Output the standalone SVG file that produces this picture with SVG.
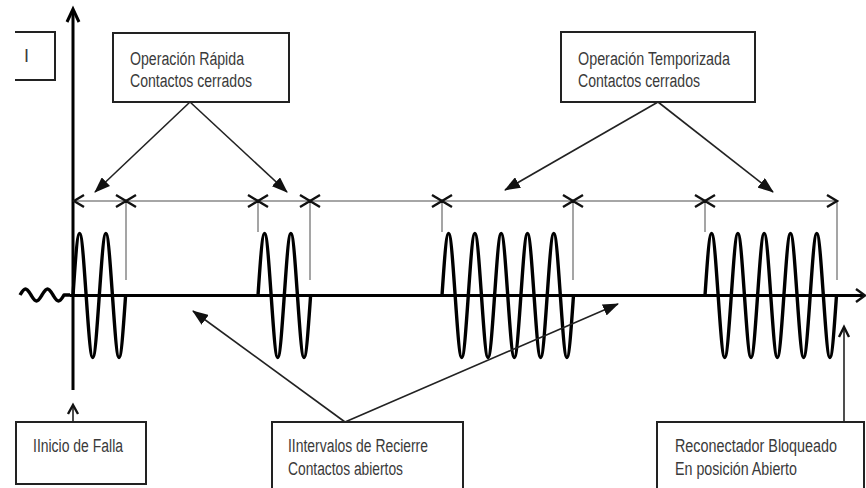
<svg xmlns="http://www.w3.org/2000/svg" xmlns:xlink="http://www.w3.org/1999/xlink" width="866" height="488" viewBox="0 0 866 488">
<style>
.box{fill:#fff;stroke:#222;stroke-width:2}
.lbl{font-family:"Liberation Sans",Arial,sans-serif;font-size:18px;fill:#3a3a3a}
.wave{fill:none;stroke:#000;stroke-width:3.4;stroke-linejoin:round}
.axis{stroke:#000;stroke-width:3;fill:none}
.dim{stroke:#888;stroke-width:1.5;fill:none}
.chev{stroke:#111;stroke-width:2.4;fill:none}
.con{stroke:#222;stroke-width:1.6;fill:none}
</style>
<defs>
<marker id="ah" viewBox="0 0 16 12" refX="15" refY="6" markerWidth="16" markerHeight="12" markerUnits="userSpaceOnUse" orient="auto"><path d="M0,0 L16,6 L0,12 z" fill="#111"/></marker>
<path id="b2" d="M0,0 c 2.14,-31.68 4.19,-62 6.575,-62 s 4.435,31.68 6.575,62 s 4.19,62 6.575,62 s 4.435,-31.68 6.575,-62 s 4.19,-62 6.575,-62 s 4.435,31.68 6.575,62 s 4.19,62 6.575,62 s 4.435,-31.68 6.575,-62"/>
<path id="b5" d="M0,0 c 2.14,-31.68 4.19,-62 6.575,-62 s 4.435,31.68 6.575,62 s 4.19,62 6.575,62 s 4.435,-31.68 6.575,-62 s 4.19,-62 6.575,-62 s 4.435,31.68 6.575,62 s 4.19,62 6.575,62 s 4.435,-31.68 6.575,-62 s 4.19,-62 6.575,-62 s 4.435,31.68 6.575,62 s 4.19,62 6.575,62 s 4.435,-31.68 6.575,-62 s 4.19,-62 6.575,-62 s 4.435,31.68 6.575,62 s 4.19,62 6.575,62 s 4.435,-31.68 6.575,-62 s 4.19,-62 6.575,-62 s 4.435,31.68 6.575,62 s 4.19,62 6.575,62 s 4.435,-31.68 6.575,-62"/>
</defs>
<rect width="866" height="488" fill="#fff"/>
<g id="chart">
<line class="axis" x1="73" y1="10" x2="73" y2="390"/>
<path class="axis" d="M67,22 L73,9 L79,22"/>
<line class="axis" x1="70" y1="295.5" x2="863" y2="295.5"/>
<path class="chev" d="M856,289 L865,295.5 L856,302"/>
<path class="wave" stroke-width="2.5" d="M 20,295 c 1.79,-3.07 3.51,-6 5.5,-6 s 3.71,3.07 5.5,6 s 3.51,6 5.5,6 s 3.71,-3.07 5.5,-6 s 3.51,-6 5.5,-6 s 3.71,3.07 5.5,6 s 3.51,6 5.5,6 s 3.71,-3.07 5.5,-6 L 70,295"/>
<use xlink:href="#b2" class="wave" x="73" y="295.5"/>
<use xlink:href="#b2" class="wave" x="258" y="295.5"/>
<use xlink:href="#b5" class="wave" x="442" y="295.5"/>
<use xlink:href="#b5" class="wave" x="705" y="295.5"/>
<line class="dim" x1="73" y1="201" x2="837" y2="201"/>
<path class="dim" d="M126,201 V280 M258,201 V232 M310,201 V280 M442,201 V232 M573,201 V280 M705,201 V232 M837,201 V280"/>
<path class="chev" d="M84,195 L74,201 L84,207 M827,195 L837,201 L827,207"/>
<path class="chev" d="M116,195 L126,201 L116,207 M136,195 L126,201 L136,207 M248,195 L258,201 L248,207 M268,195 L258,201 L268,207 M300,195 L310,201 L300,207 M320,195 L310,201 L320,207 M432,195 L442,201 L432,207 M452,195 L442,201 L452,207 M563,195 L573,201 L563,207 M583,195 L573,201 L583,207 M695,195 L705,201 L695,207 M715,195 L705,201 L715,207"/>
</g>
<g id="connectors">
<line class="con" x1="190" y1="102" x2="95" y2="192" marker-end="url(#ah)"/>
<line class="con" x1="190" y1="102" x2="287" y2="192" marker-end="url(#ah)"/>
<line class="con" x1="658" y1="102" x2="505" y2="190" marker-end="url(#ah)"/>
<line class="con" x1="658" y1="102" x2="773" y2="192" marker-end="url(#ah)"/>
<line class="con" x1="345" y1="422" x2="193" y2="311" marker-end="url(#ah)"/>
<line class="con" x1="345" y1="422" x2="618" y2="304" marker-end="url(#ah)"/>
<line class="con" x1="73" y1="422" x2="73" y2="406"/>
<path class="chev" d="M68,414 L73,405 L78,414"/>
<line class="con" x1="844" y1="422" x2="844" y2="328"/>
<path class="chev" d="M839,337 L844,327 L849,337"/>
</g>
<g id="node-i">
<path class="box" d="M15,32 H55 V80 H15"/>
<text class="lbl" x="24" y="62">I</text>
</g>
<g id="node-rapida">
<rect class="box" x="113" y="33" width="176" height="69"/>
<text class="lbl" x="130" y="65" textLength="114" lengthAdjust="spacingAndGlyphs">Operación Rápida</text>
<text class="lbl" x="130" y="87" textLength="122" lengthAdjust="spacingAndGlyphs">Contactos cerrados</text>
</g>
<g id="node-temporizada">
<rect class="box" x="561" y="32" width="194" height="70"/>
<text class="lbl" x="578" y="65" textLength="152" lengthAdjust="spacingAndGlyphs">Operación Temporizada</text>
<text class="lbl" x="578" y="87" textLength="122" lengthAdjust="spacingAndGlyphs">Contactos cerrados</text>
</g>
<g id="node-inicio">
<rect class="box" x="16" y="422" width="130" height="62"/>
<text class="lbl" x="33" y="452" textLength="90" lengthAdjust="spacingAndGlyphs">IInicio de Falla</text>
</g>
<g id="node-intervalos">
<rect class="box" x="272" y="422" width="191" height="72"/>
<text class="lbl" x="288" y="452" textLength="140" lengthAdjust="spacingAndGlyphs">IIntervalos de Recierre</text>
<text class="lbl" x="288" y="475" textLength="115" lengthAdjust="spacingAndGlyphs">Contactos abiertos</text>
</g>
<g id="node-reconectador">
<rect class="box" x="657" y="422" width="207" height="72"/>
<text class="lbl" x="675" y="452" textLength="162" lengthAdjust="spacingAndGlyphs">Reconectador Bloqueado</text>
<text class="lbl" x="675" y="475" textLength="122" lengthAdjust="spacingAndGlyphs">En posición Abierto</text>
</g>
</svg>
